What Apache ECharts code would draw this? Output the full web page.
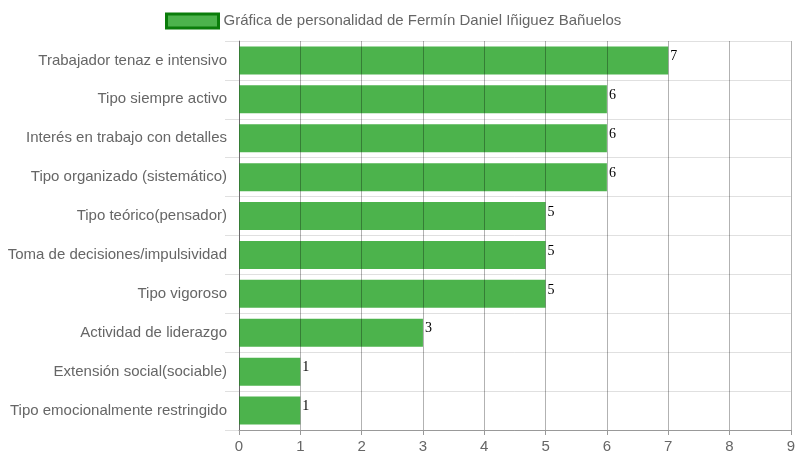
<!DOCTYPE html>
<html>
<head>
<meta charset="utf-8">
<script src="https://cdn.jsdelivr.net/npm/echarts@6/dist/echarts.min.js"></script>
<style>html,body{margin:0;padding:0;background:#fff;}#c{width:798px;height:465px;}</style>
</head>
<body>
<div id="c"></div>
<script>
const categories = [
  "Trabajador tenaz e intensivo",
  "Tipo siempre activo",
  "Interés en trabajo con detalles",
  "Tipo organizado (sistemático)",
  "Tipo teórico(pensador)",
  "Toma de decisiones/impulsividad",
  "Tipo vigoroso",
  "Actividad de liderazgo",
  "Extensión social(sociable)",
  "Tipo emocionalmente restringido"
];
const values = [7, 6, 6, 6, 5, 5, 5, 3, 1, 1];
const seriesName = "Gráfica de personalidad de Fermín Daniel Iñiguez Bañuelos";
const xTicks = [0, 1, 2, 3, 4, 5, 6, 7, 8, 9];

const FONT = 'Liberation Sans, Arial, sans-serif';
const chart = echarts.init(document.getElementById('c'), null, {renderer: 'canvas'});
chart.setOption({
  animation: false,
  backgroundColor: '#fff',
  legend: {
    left: 160, top: 7.5, padding: 5,
    icon: 'rect',
    itemWidth: 52, itemHeight: 14, itemGap: 8,
    textStyle: {color: '#666', fontSize: 15, fontFamily: FONT},
    data: [{name: seriesName, icon: 'rect', itemStyle: {color: '#4cb34c', borderColor: '#0a7d0a', borderWidth: 3}}]
  },
  grid: {left: 239, right: 7, top: 41, bottom: 35, containLabel: false},
  xAxis: {
    type: 'value', min: xTicks[0], max: xTicks[xTicks.length - 1], interval: 1,
    z: 5,
    axisLine: {show: true, lineStyle: {color: '#999'}},
    axisTick: {show: true, length: 5, lineStyle: {color: '#999'}},
    axisLabel: {color: '#666', fontSize: 15, margin: 9, fontFamily: FONT},
    splitLine: {show: true, lineStyle: {color: 'rgba(0,0,0,0.3)'}}
  },
  yAxis: {
    type: 'category', data: categories, inverse: true,
    axisLine: {show: true, lineStyle: {color: '#999'}},
    axisTick: {show: true, length: 14, lineStyle: {color: '#e0e0e0'}},
    axisLabel: {color: '#666', fontSize: 15, margin: 12, fontFamily: FONT},
    splitLine: {show: true, lineStyle: {color: '#e0e0e0'}}
  },
  series: [{
    name: seriesName, type: 'bar', data: values, barWidth: 28,
    itemStyle: {color: '#4cb34c'},
    label: {show: true, position: 'right', distance: 2, color: '#000', fontSize: 14,
      fontFamily: 'Liberation Serif, Times New Roman, serif', offset: [0, -4]}
  }]
});
</script>
</body>
</html>
